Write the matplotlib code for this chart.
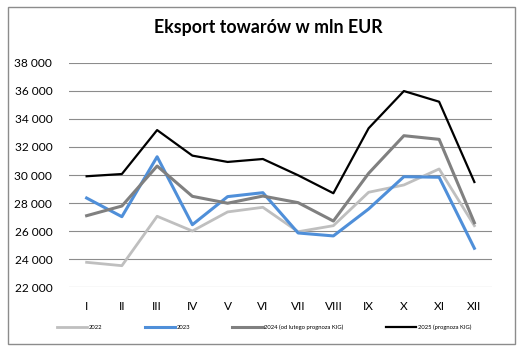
import numpy as np
import matplotlib.pyplot as plt
from matplotlib.patches import Rectangle
from matplotlib.ticker import FuncFormatter

months = ["I", "II", "III", "IV", "V", "VI", "VII", "VIII", "IX", "X", "XI", "XII"]

y2022 = [23780, 23540, 27060, 26010, 27370, 27700, 25960, 26390, 28770, 29290, 30430, 26390]
y2023 = [28360, 27030, 31300, 26460, 28460, 28740, 25870, 25660, 27580, 29880, 29840, 24780]
y2024 = [27100, 27790, 30640, 28480, 27990, 28500, 28030, 26720, 30120, 32800, 32540, 26600]
y2025 = [29910, 30070, 33200, 31380, 30930, 31140, 29980, 28700, 33330, 35980, 35220, 29500]

labels = ["2022", "2023", "2024 (od lutego prognoza KIG)", "2025 (prognoza KIG)"]

plt.rcParams['font.family'] = ['Lato', 'DejaVu Sans']

fig = plt.figure(figsize=(5.26, 3.54), dpi=100)
fig.patches.append(Rectangle((8 / 526, 1 - 344 / 354), 507 / 526, 337 / 354,
                             transform=fig.transFigure, fill=False,
                             edgecolor="#8c8c8c", linewidth=1.0))

ax = fig.add_axes([69 / 526, 1 - 287.3 / 354, 423 / 526, 224.6 / 354])
x = np.arange(len(months))

ax.plot(x, y2022, color="#bfbfbf", linewidth=2.0, label=labels[0])
ax.plot(x, y2023, color="#4f8fd9", linewidth=2.2, label=labels[1])
ax.plot(x, y2024, color="#808080", linewidth=2.2, label=labels[2])
ax.plot(x, y2025, color="black", linewidth=1.6, label=labels[3])

ax.set_xlim(-0.5, 11.5)
ax.set_ylim(22000, 38000)
ax.set_yticks(np.arange(22000, 38001, 2000))
ax.yaxis.set_major_formatter(FuncFormatter(lambda v, p: f"{int(v):,}".replace(",", " ")))
ax.set_xticks(x)
ax.set_xticklabels(months)
ax.grid(axis="y", color="#8c8c8c", linewidth=0.8)
ax.set_axisbelow(True)
for s in ax.spines.values():
    s.set_visible(False)
ax.tick_params(axis="both", length=0, labelsize=8.6)
ax.tick_params(axis="y", pad=12)
ax.tick_params(axis="x", pad=10)

fig.text(268 / 526, 1 - 28 / 354, "Eksport towarów w mln EUR", ha="center", va="center",
         fontsize=12.8, fontweight="bold")

fig.legend(loc="center", bbox_to_anchor=(264 / 526, 1 - 327 / 354), ncol=4, frameon=False,
           fontsize=4.2, handlelength=5.2, handletextpad=0.3, columnspacing=7.2)

fig.savefig("out.png", dpi=100)
